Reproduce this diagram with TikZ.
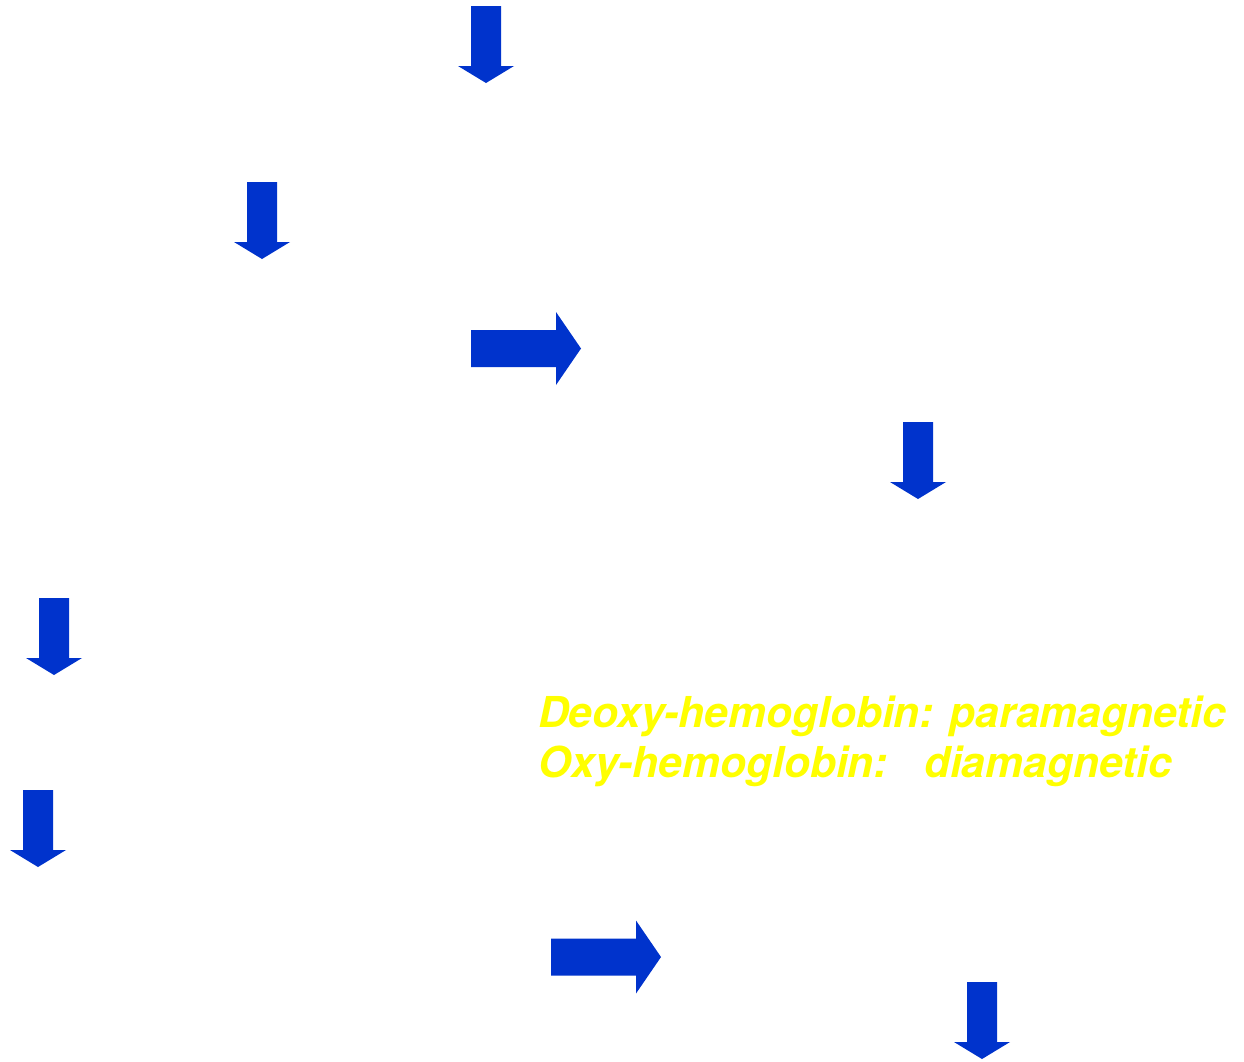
\documentclass[tikz,border=0pt]{standalone}
\usepackage{fontspec}
\newfontfamily\heros{TeX Gyre Heros}
\definecolor{arrowblue}{RGB}{0,51,204}
\definecolor{txtyellow}{RGB}{255,255,0}
\begin{document}
\begin{tikzpicture}[x=1pt,y=-1pt,
  blockarrow/.style={fill=arrowblue,draw=none},
  downarrow/.pic={\fill[blockarrow] (-15,0) -- (15,0) -- (15,60) -- (28,60) -- (0,77) -- (-28,60) -- (-15,60) -- cycle;},
  rightarrow/.pic={\fill[blockarrow] (0,-18.5) -- (85,-18.5) -- (85,-36.5) -- (110,0) -- (85,36.5) -- (85,18.5) -- (0,18.5) -- cycle;},
  label/.style={anchor=base west,inner sep=0pt,text=txtyellow,font=\heros\bfseries\itshape\fontsize{42.6}{50}\selectfont}]
\useasboundingbox[fill=white] (0,0) rectangle (1244,1061);
\pic (d1) at (486,6) {downarrow};
\pic (d2) at (262,182) {downarrow};
\pic (d3) at (918,422) {downarrow};
\pic (d4) at (54,598) {downarrow};
\pic (d5) at (38,790) {downarrow};
\pic (d6) at (982,982) {downarrow};
\pic (r1) at (471,348.5) {rightarrow};
\pic (r2) at (551,957) {rightarrow};
\node[label] (l1) at (538,727) {Deoxy-hemoglobin: paramagnetic};
\node[label] (l2) at (538,777) {Oxy-hemoglobin:\hspace{36pt}diamagnetic};
\end{tikzpicture}
\end{document}
